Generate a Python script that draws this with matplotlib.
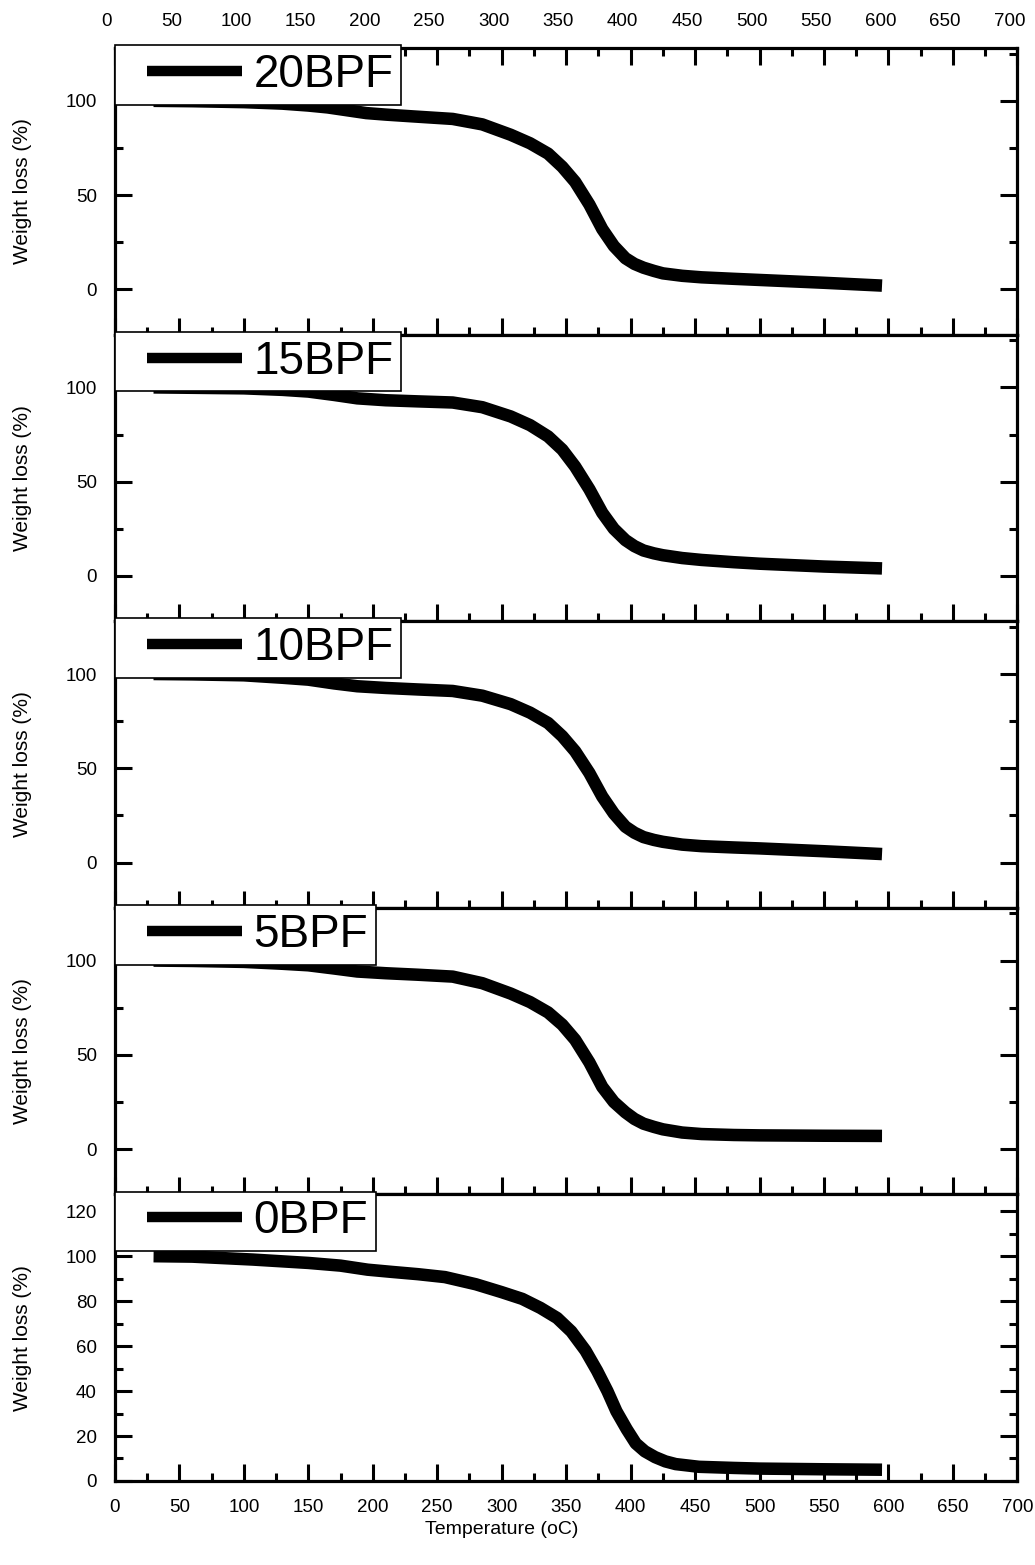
import matplotlib
matplotlib.use("Agg")
import matplotlib.pyplot as plt
from matplotlib.legend_handler import HandlerLine2D
from matplotlib.ticker import MultipleLocator
from matplotlib.transforms import ScaledTranslation

plt.rcParams['font.family'] = ['Liberation Sans', 'DejaVu Sans']

# TGA curves (temperature in oC, weight in %)
t20 = [30, 60, 100, 130, 150, 165, 180, 195, 210, 230, 262, 285, 307, 322, 336, 347, 357, 368,
       378, 387, 396, 403, 410, 418, 425, 440, 455, 480, 500, 550, 595]
w20 = [100, 99.8, 99.3, 98.5, 97.5, 96.5, 95, 93.5, 92.7, 91.8, 90.4, 87.5, 82, 77.5, 72, 65, 57, 45,
       32, 23, 16.5, 13.5, 11.5, 9.8, 8.5, 7.2, 6.4, 5.6, 5, 3.5, 2]

t15 = [30, 60, 100, 130, 150, 170, 188, 210, 235, 262, 285, 307, 322, 336, 347, 357, 368,
       378, 387, 396, 403, 410, 418, 425, 440, 455, 480, 500, 550, 595]
w15 = [100, 99.8, 99.5, 98.7, 97.8, 96, 94.2, 93.2, 92.6, 92, 89.5, 84.6, 80, 74, 67, 58, 46,
       33.5, 25, 19, 15.8, 13.5, 12, 11, 9.5, 8.5, 7.3, 6.5, 5, 4]

t10 = [30, 60, 100, 130, 150, 170, 188, 210, 235, 262, 285, 307, 322, 336, 347, 357, 368,
       378, 387, 396, 403, 410, 418, 425, 440, 455, 480, 500, 550, 595]
w10 = [100, 99.8, 99.3, 98, 97, 95, 93.5, 92.6, 91.8, 91, 88.5, 84, 79.5, 74, 67, 59, 47.5,
       35, 26, 19, 15.8, 13.5, 12, 11, 9.5, 8.7, 8, 7.5, 6, 4.5]

t5 = [30, 60, 100, 130, 150, 170, 188, 210, 235, 262, 285, 307, 322, 336, 347, 357, 368,
      378, 387, 396, 403, 410, 418, 425, 440, 455, 480, 500, 550, 595]
w5 = [100, 99.8, 99.3, 98.3, 97.5, 95.8, 94.2, 93.3, 92.5, 91.5, 88, 82.5, 78, 72.5, 66, 58, 46,
      33, 25, 19.5, 16, 13.5, 11.8, 10.5, 8.8, 8, 7.5, 7.3, 7.1, 7]

t0 = [30, 60, 107, 150, 175, 196, 215, 235, 256, 280, 300, 316, 330, 343, 354, 365, 374, 382,
      389, 397, 404, 411, 419, 427, 435, 453, 480, 500, 550, 595]
w0 = [100, 99.8, 98.5, 97, 95.8, 94, 93, 92, 90.7, 87.5, 84, 81, 77, 72.5, 66.5, 58, 49, 40,
      31, 23, 16.7, 13.2, 10.6, 8.7, 7.5, 6.3, 5.8, 5.5, 5.2, 5]

series = [("20BPF", t20, w20), ("15BPF", t15, w15), ("10BPF", t10, w10),
          ("5BPF", t5, w5), ("0BPF", t0, w0)]

fig, axes = plt.subplots(5, 1, sharex=True, figsize=(10.35, 15.65), dpi=100)
fig.subplots_adjust(left=0.111, right=0.983, top=0.9693, bottom=0.0537, hspace=0)

for i, (ax, (name, t, w)) in enumerate(zip(axes, series)):
    line, = ax.plot(t, w, color="k", lw=9, solid_capstyle="butt",
                    solid_joinstyle="round", label=name)
    ax.set_xlim(0, 700)
    ax.xaxis.set_major_locator(MultipleLocator(50))
    ax.xaxis.set_minor_locator(MultipleLocator(25))
    if i < 4:
        ax.set_ylim(-24, 128)
        ax.yaxis.set_major_locator(MultipleLocator(50))
        ax.yaxis.set_minor_locator(MultipleLocator(25))
    else:
        ax.set_ylim(0, 127.5)
        ax.yaxis.set_major_locator(MultipleLocator(20))
        ax.yaxis.set_minor_locator(MultipleLocator(10))
    for s in ax.spines.values():
        s.set_linewidth(2.3)
    ax.tick_params(which="both", direction="in", width=2.2, left=True, right=True,
                   bottom=True, top=(i == 0), labelbottom=(i == 4), labeltop=(i == 0),
                   labelsize=13.5, pad=13)
    ax.tick_params(which="major", length=12)
    ax.tick_params(which="minor", length=5.5)
    ax.set_ylabel("Weight loss (%)", fontsize=15)
    ax.yaxis.set_label_coords(-0.092, 0.5)
    leg = ax.legend(loc="upper left", bbox_to_anchor=(0, 1.01), borderaxespad=0,
                    fontsize=33, handlelength=2.6, handletextpad=0.25, borderpad=0.17,
                    fancybox=False, framealpha=1, edgecolor="k",
                    handler_map={line: HandlerLine2D(xpad=0.52)})
    leg.get_frame().set_linewidth(1.2)
    leg.legend_handles[0].set_linewidth(7.5)

# the top scale sits a little to the left in the original
for tick in axes[0].xaxis.get_major_ticks():
    tick.label2.set_transform(tick.label2.get_transform() +
                              ScaledTranslation(-0.08, 0, fig.dpi_scale_trans))

fig.text(0.485, 0.0224, "Temperature (oC)", ha="center", va="center", fontsize=14)

fig.savefig("out.png", dpi=100)
